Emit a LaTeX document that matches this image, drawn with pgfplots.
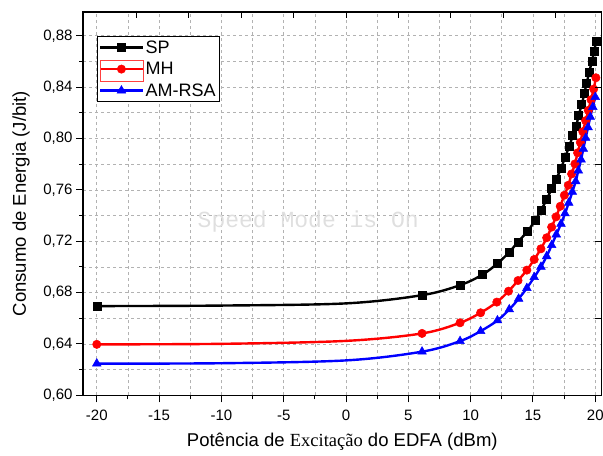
\documentclass[border=0pt]{standalone}
\usepackage{fontspec}
\setmainfont{Liberation Sans}
\newfontfamily\timesfont{Liberation Serif}
\newfontfamily\monofont{Liberation Mono}
\usepackage{pgfplots}
\pgfplotsset{compat=1.18}
\usetikzlibrary{calc}

\begin{document}
\begin{tikzpicture}
\begin{axis}[
    scale only axis,
    width=518pt, height=383pt,
    xmin=-21.1, xmax=20.5,
    ymin=0.60, ymax=0.8985,
    xtick={-20,-15,...,20},
    ytick={0.60,0.64,...,0.881},
    minor x tick num=1,
    minor y tick num=1,
    xtick pos=left, ytick pos=left,
    tick align=outside,
    major tick length=7pt, minor tick length=4pt,
    tick style={black, line width=1pt},
    axis line style={line width=1.2pt},
    grid=both,
    grid style={gray!60, line width=0.7pt, dash pattern=on 3pt off 3pt},
    minor grid style={gray!60, line width=0.7pt, dash pattern=on 3pt off 3pt},
    /pgf/number format/assume math mode=true,
    yticklabel style={/pgf/number format/.cd, fixed, fixed zerofill, precision=2, use comma},
    xticklabel style={yshift=-4pt},
    ticklabel style={font=\fontsize{15}{15}\selectfont},
    xlabel={Potência de {\timesfont Excitação} do EDFA (dBm)},
    ylabel={Consumo de Energia (J/bit)},
    label style={font=\fontsize{18.5}{20}\selectfont},
    xlabel style={at={(axis description cs:0.5,-0.12)}, anchor=center},
    ylabel style={at={(axis description cs:-0.1197,0.5)}, anchor=center},
    legend style={at={(0.0265,0.937)}, anchor=north west, draw=black, line width=0.8pt,
        font=\fontsize{18}{18}\selectfont, row sep=3.5pt, inner sep=2pt},
    legend cell align=left,
    legend image code/.code={
        \draw[mark indices={2}, line width=2.4pt]
        plot coordinates {(0pt,0pt) (21pt,0pt) (42pt,0pt)};
    },
    every axis plot/.append style={line width=2.4pt, smooth, tension=0.55,
        mark options={solid, line width=0.5pt},
        mark indices={1,4,5,6,7,8,9,10,11,12,13,14,15,16,17,18,19,20,21,22,23,24,25,26,27,28}},
]
\coordinate (bl) at (rel axis cs:0,0);
\coordinate (tr) at (rel axis cs:1,1);
\coordinate (tl) at (rel axis cs:0,1);

\node[text=gray!25, font=\monofont\fontsize{23}{23}\selectfont] at ($(bl)+(225pt,174pt)$) {Speed Mode is On};

% SP (points 2-3 are read off the line, where it has no marker)
\addplot[black, mark=square*, mark size=4pt] coordinates {
    (-20,0.6695) (-10,0.6699) (0,0.6716)
    (6.1,0.678) (9.15,0.6858) (10.95,0.694) (12.15,0.7027) (13.1,0.7115)
    (13.8,0.7195) (14.57,0.7278) (15.16,0.736) (15.64,0.744) (16.1,0.7525) (16.5,0.761)
    (16.87,0.7686) (17.25,0.7766) (17.57,0.7853) (17.92,0.794) (18.19,0.8022) (18.46,0.8095)
    (18.67,0.818) (18.91,0.8263) (19.12,0.8349) (19.31,0.8432) (19.52,0.8518) (19.72,0.86)
    (19.93,0.8683) (20.05,0.876)
};
% MH
\addplot[red, mark=*, mark size=4.2pt] coordinates {
    (-20,0.6397) (-10,0.6401) (0,0.6424)
    (6.1,0.6482) (9.15,0.6565) (10.8,0.6643) (12.1,0.6726) (13.04,0.6811)
    (13.8,0.6894) (14.51,0.6975) (15.1,0.7058) (15.64,0.7141) (16.1,0.7227) (16.5,0.731)
    (16.85,0.739) (17.19,0.7472) (17.52,0.7558) (17.84,0.7636) (18.1,0.7724) (18.37,0.7802)
    (18.58,0.7888) (18.8,0.797) (19.0,0.8053) (19.23,0.8139) (19.44,0.8219) (19.66,0.8302)
    (19.87,0.8385) (20.05,0.8473)
};
% AM-RSA
\addplot[blue, mark=triangle*, mark size=5pt] coordinates {
    (-20,0.6247) (-10,0.6250) (0,0.6272)
    (6.1,0.634) (9.15,0.6422) (10.8,0.650) (12.15,0.6583) (13.1,0.6669)
    (13.85,0.6752) (14.51,0.6835) (15.1,0.692) (15.64,0.7001) (16.1,0.7083) (16.5,0.7169)
    (16.87,0.7252) (17.25,0.7335) (17.57,0.7416) (17.87,0.7499) (18.16,0.7584) (18.43,0.7667)
    (18.64,0.775) (18.86,0.7836) (19.04,0.7919) (19.23,0.8004) (19.42,0.8087) (19.6,0.8168)
    (19.8,0.8245) (20.0,0.8323)
};
\legend{SP, MH, AM-RSA}
\end{axis}

% top and right axes with their own inward ticks
\begin{axis}[
    scale only axis,
    width=518pt, height=383pt,
    xmin=-21.1, xmax=20.5,
    ymin=0.60, ymax=0.8985,
    xtick={-16.8,-12.6,-8.4,-4.2,0,4.2,8.4,12.6,16.8},
    ytick={0.66,0.72,0.78,0.84},
    xtick pos=right, ytick pos=right,
    tick align=inside,
    major tick length=6pt,
    tick style={black, line width=1pt},
    axis line style={line width=1.2pt},
    xticklabels={}, yticklabels={},
]
\end{axis}

\draw[red!75, line width=0.8pt] ($(tl)+(17.7pt,-48.7pt)$) rectangle ($(tl)+(60.3pt,-69.7pt)$);

\pgfresetboundingbox
\path[use as bounding box] ($(bl)+(-83pt,-60pt)$) rectangle ($(tr)+(1.5pt,12pt)$);
\end{tikzpicture}
\end{document}
